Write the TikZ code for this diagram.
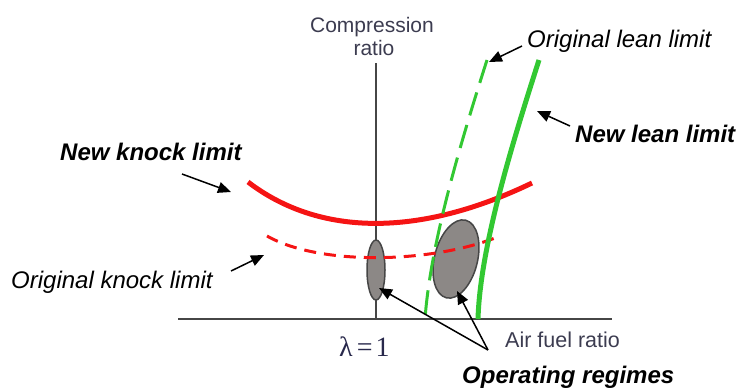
\documentclass[tikz,border=0pt]{standalone}
\usepackage{fontspec}
\setmainfont{Liberation Sans}
\newfontfamily\serifl{Liberation Serif}
\usetikzlibrary{arrows.meta,shapes.geometric}
\definecolor{axisgray}{RGB}{70,70,70}
\definecolor{axtext}{RGB}{60,60,80}
\definecolor{lamtext}{RGB}{40,40,75}
\definecolor{kred}{RGB}{245,20,20}
\definecolor{lgreen}{RGB}{50,200,50}
\definecolor{regfill}{RGB}{140,136,134}
\tikzset{
  axisline/.style={draw=axisgray, line width=2pt},
  axlabel/.style={text=axtext, inner sep=0pt, font=\fontsize{21}{24}\selectfont},
  boldlab/.style={inner sep=0pt, anchor=base west, font=\fontsize{24}{28}\selectfont\bfseries\itshape},
  itlab/.style={inner sep=0pt, anchor=base west, font=\fontsize{24}{28}\selectfont\itshape},
  pointer/.style={draw=black, line width=1.5pt, -{Triangle[length=13pt,width=11pt]}},
  regime/.style={draw=axisgray, fill=regfill, line width=1.5pt, ellipse, inner sep=0pt},
}
\begin{document}
\begin{tikzpicture}[x=1pt,y=-1pt]
\useasboundingbox (0,0) rectangle (739,388);
% axes
\coordinate (ytop) at (376,63);
\coordinate (yorig) at (376,319);
\coordinate (xleft) at (178,319);
\coordinate (xright) at (612,319);
\draw[axisline] (yorig) -- (ytop);
\draw[axisline] (xleft) -- (xright);
\node[axlabel, anchor=base] (cr) at (372,32) {Compression};
\node[axlabel, anchor=base] (cr2) at (374,55) {ratio};
\node[axlabel, anchor=base west, font=\fontsize{21.5}{24}\selectfont] (afr) at (505,347) {Air fuel ratio};
\node[inner sep=0pt, anchor=base west, text=lamtext, font=\serifl\fontsize{28}{32}\selectfont] (lam) at (339,356) {λ\hspace{4pt}=\hspace{3pt}1};
% regimes
\node[regime, minimum width=18pt, minimum height=60pt] (reg1) at (376,270) {};
\node[regime, minimum width=43pt, minimum height=80pt, rotate=-14] (reg2) at (456,259) {};
% knock limits
\coordinate (nk1) at (248,182);
\coordinate (nk2) at (532,183);
\draw[kred, line width=5pt] (nk1) .. controls (320,237) and (420,237) .. (nk2);
\coordinate (ok1) at (267,236);
\coordinate (ok2) at (495,238);
\draw[kred, line width=3pt, dash pattern=on 12pt off 8pt] (ok1) .. controls (320,266) and (430,263) .. (ok2);
% lean limits
\coordinate (ol1) at (487,60);
\coordinate (ol2) at (425,319);
\draw[lgreen, line width=3pt, dash pattern=on 24pt off 10pt] (ol1) .. controls (455,160) and (430,250) .. (ol2);
\coordinate (nl1) at (539,60);
\coordinate (nl2) at (478,319);
\draw[lgreen, line width=5pt] (nl1) .. controls (510,150) and (480,250) .. (nl2);
% labels
\node[boldlab] (nkl) at (60,160) {New knock limit};
\node[itlab] (okl) at (11,288) {Original knock limit};
\node[itlab] (oll) at (527,47) {Original lean limit};
\node[boldlab] (nll) at (575,142) {New lean limit};
\node[boldlab] (opr) at (462,383) {Operating regimes};
% pointers
\coordinate (a1s) at (182,174);
\coordinate (a1e) at (231,192);
\draw[pointer] (a1s) -- (a1e);
\coordinate (a2s) at (231,271);
\coordinate (a2e) at (264,255);
\draw[pointer] (a2s) -- (a2e);
\coordinate (a3s) at (522,46);
\coordinate (a3e) at (489,62);
\draw[pointer] (a3s) -- (a3e);
\coordinate (a4s) at (570,126);
\coordinate (a4e) at (537,111);
\draw[pointer] (a4s) -- (a4e);
\coordinate (a5s) at (488,350);
\coordinate (a5e) at (379,288);
\coordinate (a6e) at (457,291);
\draw[pointer] (a5s) -- (a5e);
\draw[pointer] (a5s) -- (a6e);
\end{tikzpicture}
\end{document}
